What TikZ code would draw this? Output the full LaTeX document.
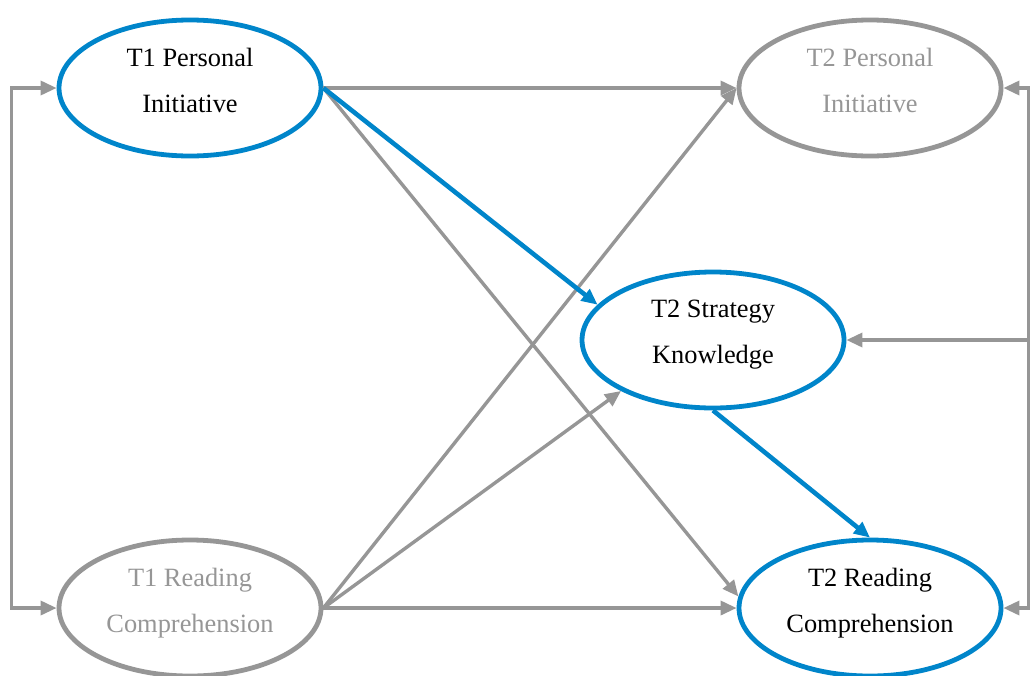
\documentclass[tikz,border=0pt]{standalone}
\usepackage{fontspec}
\setmainfont{Liberation Serif}
\usetikzlibrary{arrows.meta}
\tikzset{>={Triangle[length=8pt,width=7pt]}}
\usetikzlibrary{shapes.geometric}
\definecolor{pathblue}{RGB}{0,133,202}
\definecolor{pathgray}{RGB}{150,150,150}
\tikzstyle{keyvar} = [ellipse, minimum width=131pt, minimum height=68pt, inner sep=0pt, align=center, text depth=8pt, line width=2.4pt, draw=pathblue, text=black, font=\fontsize{13.2}{23}\selectfont]
\tikzstyle{othervar} = [keyvar, draw=pathgray, text=pathgray]
\tikzstyle{arrow} = [line width=1.7pt,->,draw=pathgray]
\tikzstyle{keyarrow} = [line width=2.3pt,->,draw=pathblue]

\begin{document}
\begin{tikzpicture}[x=0.5pt,y=-0.5pt]
	\useasboundingbox (0,0) rectangle (1031,675);
	\clip (0,0) rectangle (1031,675);
	\node (pi1) [keyvar] at (190,88) {T1 Personal\\Initiative};
	\node (pi2) [othervar] at (870,88) {T2 Personal\\Initiative};
	\node (sk2) [keyvar] at (713,340) {T2 Strategy\\Knowledge};
	\node (rc1) [othervar] at (190,608) {T1 Reading\\Comprehension};
	\node (rc2) [keyvar] at (870,608) {T2 Reading\\Comprehension};
	\coordinate (rb) at (1028,340);

	% stability and cross-lagged paths
	\draw [arrow] (pi1.east) -- (pi2.west);
	\draw [arrow] (pi1.east) -- (rc2.175);
	\draw [arrow] (rc1.east) -- (pi2.west);
	\draw [arrow] (rc1.east) -- (sk2.209);
	\draw [arrow] (rc1.east) -- (rc2.west);
	% mediation
	\draw [keyarrow] (pi1.east) -- (sk2.163);
	\draw [keyarrow] (sk2.south) -- (rc2.north);
	% correlations
	\draw [arrow,<->] (pi1.west) -- ++(-45,0) |- (rc1.west);
	\draw [arrow,<->] (pi2.east) -- ++(25,0) |- (rc2.east);
	\draw [arrow] (rb) -- (sk2.east);
\end{tikzpicture}
\end{document}
